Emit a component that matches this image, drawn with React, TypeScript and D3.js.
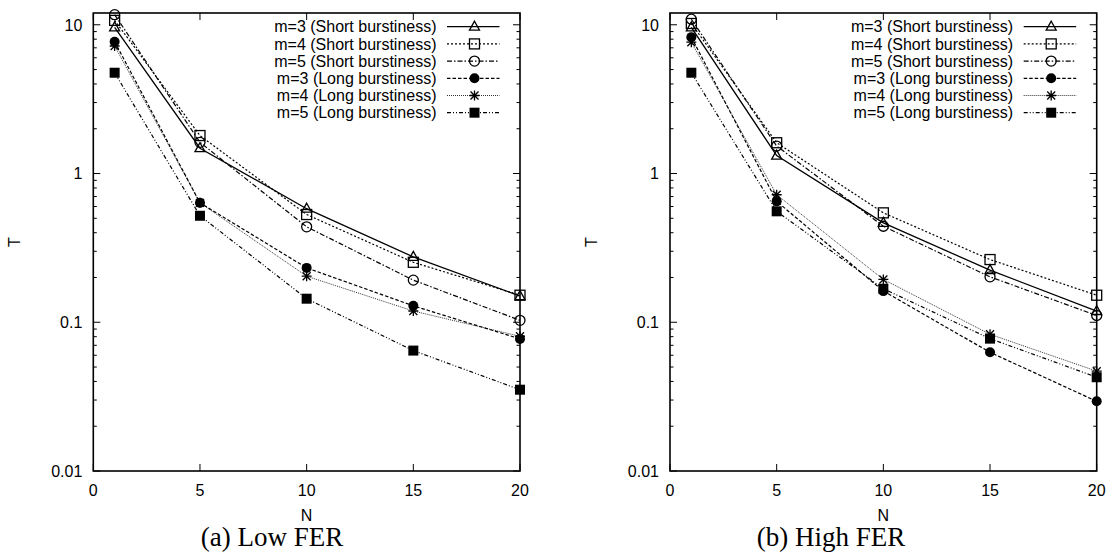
import React from 'react';
import * as d3 from 'd3';

// x values (N) and legend labels
const N = [1, 5, 10, 15, 20];
const labels = [
  'm=3 (Short burstiness)',
  'm=4 (Short burstiness)',
  'm=5 (Short burstiness)',
  'm=3 (Long burstiness)',
  'm=4 (Long burstiness)',
  'm=5 (Long burstiness)',
];

// (a) Low FER
const lowS3 = [9.6, 1.48, 0.58, 0.275, 0.15];
const lowS4 = [10.7, 1.8, 0.53, 0.253, 0.152];
const lowS5 = [11.7, 1.62, 0.438, 0.192, 0.103];
const lowL3 = [7.7, 0.635, 0.232, 0.129, 0.0773];
const lowL4 = [7.2, 0.635, 0.204, 0.119, 0.0805];
const lowL5 = [4.76, 0.52, 0.144, 0.0645, 0.0352];

// (b) High FER
const highS3 = [9.6, 1.32, 0.466, 0.224, 0.119];
const highS4 = [10.2, 1.61, 0.544, 0.264, 0.152];
const highS5 = [10.9, 1.53, 0.442, 0.202, 0.111];
const highL3 = [8.26, 0.65, 0.162, 0.0628, 0.0294];
const highL4 = [7.64, 0.72, 0.194, 0.083, 0.0469];
const highL5 = [4.76, 0.557, 0.168, 0.0776, 0.0427];

const xTicks = [0, 5, 10, 15, 20];
const yTicks = [0.01, 0.1, 1, 10];
const yTickLabels = ['0.01', '0.1', '1', '10'];

const lineStyles = [
  { dash: null, marker: 'triangle', w: 1.3 },
  { dash: '2,2', marker: 'square', w: 1.2 },
  { dash: '5,2,1.5,2', marker: 'circle', w: 1.2 },
  { dash: '3.5,2', marker: 'disc', w: 1.2 },
  { dash: '1,1', marker: 'star', w: 0.8 },
  { dash: '4,2,1,2,1,2', marker: 'box', w: 1.2 },
];

const SANS = '"Liberation Sans", Arial, Helvetica, sans-serif';
const SERIF = '"Liberation Serif", "Times New Roman", serif';
const TOP = 13;
const BOTTOM = 471;

function Marker({ type, x, y }) {
  const r = 5;
  if (type === 'triangle')
    return <path d={`M${x},${y - 5.5}L${x + 5},${y + 3.5}L${x - 5},${y + 3.5}Z`} fill="none" stroke="#000" strokeWidth={1.3} />;
  if (type === 'square')
    return <rect x={x - r} y={y - r} width={2 * r} height={2 * r} fill="none" stroke="#000" strokeWidth={1.3} />;
  if (type === 'circle')
    return <circle cx={x} cy={y} r={r} fill="none" stroke="#000" strokeWidth={1.3} />;
  if (type === 'disc')
    return <circle cx={x} cy={y} r={r} fill="#000" />;
  if (type === 'box')
    return <rect x={x - r} y={y - r} width={2 * r} height={2 * r} fill="#000" />;
  // star: + and x overlaid
  return (
    <path
      d={`M${x - r},${y}H${x + r}M${x},${y - r}V${y + r}M${x - 4},${y - 4}L${x + 4},${y + 4}M${x - 4},${y + 4}L${x + 4},${y - 4}`}
      stroke="#000"
      strokeWidth={1.3}
    />
  );
}

function Panel({ left, right, series, caption, captionX }) {
  const x = d3.scaleLinear().domain([0, 20]).range([left, right]);
  const y = d3.scaleLog().domain([0.01, 12]).range([BOTTOM, TOP]);
  const line = d3.line<number>()
    .x((d, i) => x(N[i]))
    .y((d) => y(d));

  const minor: number[] = [];
  [0.01, 0.1, 1, 10].forEach((base) => {
    for (let k = 2; k <= 9; k++) {
      const v = base * k;
      if (v < 12) minor.push(v);
    }
  });

  return (
    <g>
      {/* ticks */}
      {xTicks.map((t) => (
        <g key={'x' + t}>
          <line x1={x(t)} x2={x(t)} y1={BOTTOM} y2={BOTTOM - 7} stroke="#000" strokeWidth={1} />
          <line x1={x(t)} x2={x(t)} y1={TOP} y2={TOP + 7} stroke="#000" strokeWidth={1} />
          <text x={x(t)} y={BOTTOM + 25} textAnchor="middle" fontFamily={SANS} fontSize={16}>{t}</text>
        </g>
      ))}
      {yTicks.map((t, i) => (
        <g key={'y' + t}>
          <line x1={left} x2={left + 7} y1={y(t)} y2={y(t)} stroke="#000" strokeWidth={1} />
          <line x1={right} x2={right - 7} y1={y(t)} y2={y(t)} stroke="#000" strokeWidth={1} />
          <text x={left - 11} y={y(t)} dy="0.36em" textAnchor="end" fontFamily={SANS} fontSize={16}>{yTickLabels[i]}</text>
        </g>
      ))}
      {minor.map((t) => (
        <g key={'m' + t}>
          <line x1={left} x2={left + 3.5} y1={y(t)} y2={y(t)} stroke="#000" strokeWidth={1} />
          <line x1={right} x2={right - 3.5} y1={y(t)} y2={y(t)} stroke="#000" strokeWidth={1} />
        </g>
      ))}
      {/* frame */}
      <rect x={left} y={TOP} width={right - left} height={BOTTOM - TOP} fill="none" stroke="#000" strokeWidth={1.6} />

      {/* series */}
      {series.map((vals, si) => (
        <g key={'s' + si}>
          <path d={line(vals)} fill="none" stroke="#000" strokeWidth={lineStyles[si].w}
            strokeDasharray={lineStyles[si].dash || undefined} />
          {vals.map((v, i) => (
            <Marker key={i} type={lineStyles[si].marker} x={x(N[i])} y={y(v)} />
          ))}
        </g>
      ))}

      {/* legend */}
      {labels.map((lab, i) => {
        const ly = 26.7 + i * 17.2;
        return (
          <g key={'l' + i}>
            <text x={right - 83.5} y={ly} dy="0.36em" textAnchor="end" fontFamily={SANS} fontSize={16}>{lab}</text>
            <line x1={right - 73} x2={right - 20.5} y1={ly} y2={ly} stroke="#000" strokeWidth={lineStyles[i].w}
              strokeDasharray={lineStyles[i].dash || undefined} />
            <Marker type={lineStyles[i].marker} x={right - 45.5} y={ly} />
          </g>
        );
      })}

      {/* axis titles */}
      <text x={(left + right) / 2} y={521} textAnchor="middle" fontFamily={SANS} fontSize={16}>N</text>
      <text transform={`translate(${left - 73},${(TOP + BOTTOM) / 2}) rotate(-90)`} textAnchor="middle"
        fontFamily={SANS} fontSize={16}>T</text>
      <text x={captionX} y={546} textAnchor="middle" fontFamily={SERIF} fontSize={27}>{caption}</text>
    </g>
  );
}

export default function App() {
  return (
    <svg width={1109} height={559} style={{ position: 'absolute', left: 0, top: 0, background: '#fff' }}>
      <Panel left={93.3} right={520} series={[lowS3, lowS4, lowS5, lowL3, lowL4, lowL5]}
        caption="(a) Low FER" captionX={272} />
      <Panel left={670} right={1096.7} series={[highS3, highS4, highS5, highL3, highL4, highL5]}
        caption="(b) High FER" captionX={831} />
    </svg>
  );
}
